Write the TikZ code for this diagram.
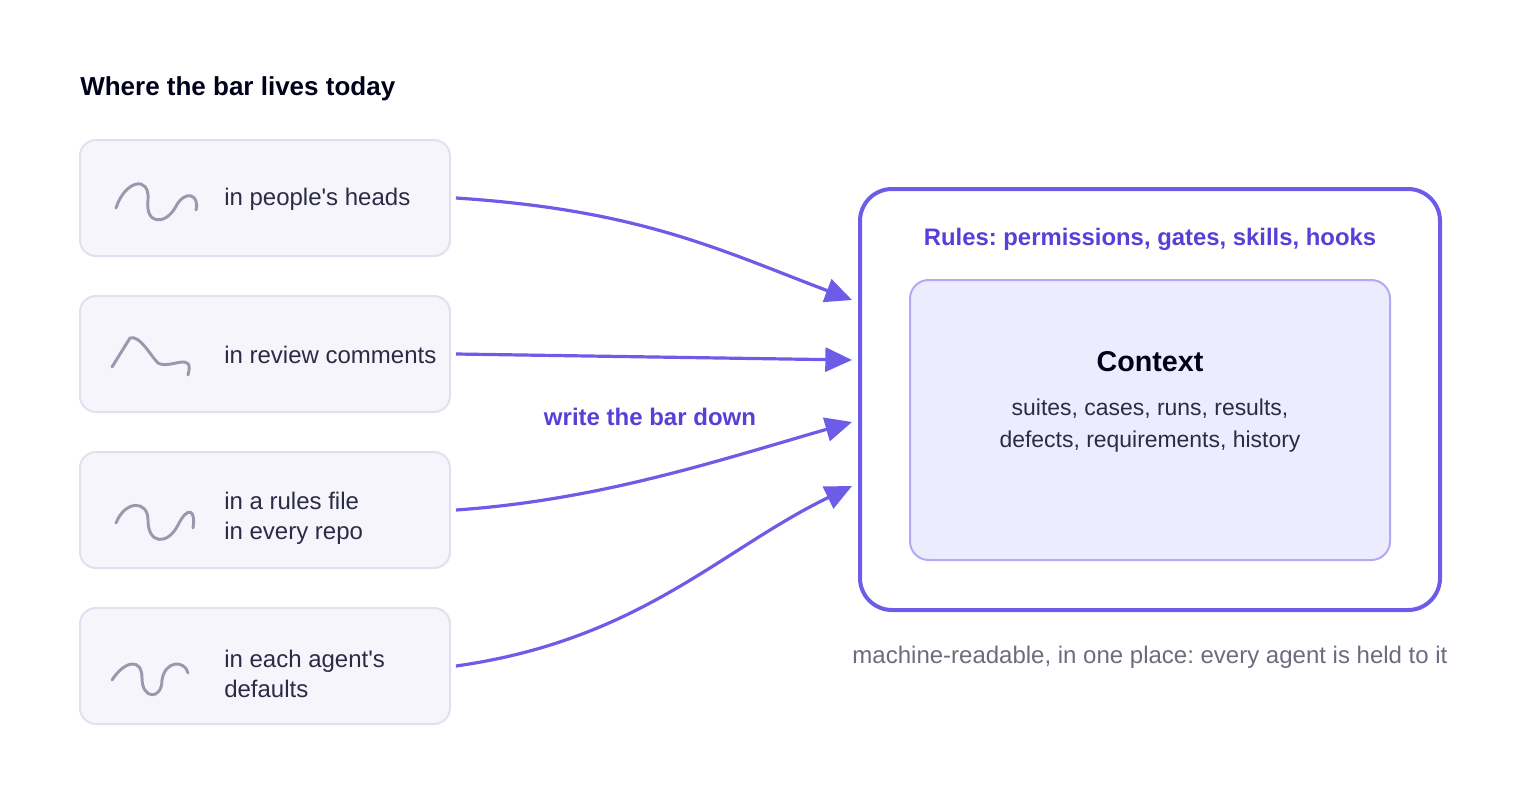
\documentclass[tikz,border=0pt]{standalone}
\usepackage{fontspec}
\setmainfont{Liberation Sans}
\usetikzlibrary{arrows.meta}
\definecolor{accent}{HTML}{6C5CE7}
\definecolor{accentdk}{HTML}{5640D8}
\definecolor{cardfill}{HTML}{F6F5FC}
\definecolor{cardline}{HTML}{E2E0EE}
\definecolor{ctxfill}{HTML}{EDEBFE}
\definecolor{ctxline}{HTML}{B3A9F5}
\definecolor{ink}{HTML}{2B2B45}
\definecolor{squig}{HTML}{9A98AC}
\definecolor{muted}{HTML}{6B6B80}
\frenchspacing
\tikzset{
  card/.style = {draw=cardline, fill=cardfill, line width=1.5pt, rounded corners=12pt,
    minimum width=370*0.75pt, minimum height=116*0.75pt, outer sep=4.5pt},
  cardtext/.style = {anchor=west, align=left, inner sep=0pt, text=ink, font=\fontsize{18}{22.5}\selectfont},
  squiggle/.style = {draw=squig, line width=2.2pt, line cap=round},
  flow/.style = {draw=accent, line width=2.4pt, -{Triangle[length=20pt,width=18pt]}}
}
\begin{document}
\begin{tikzpicture}[x=0.75pt, y=-0.75pt]
\useasboundingbox (0,0) rectangle (1520,800);
\node[anchor=west, inner sep=0pt, font=\bfseries\fontsize{19.5}{20}\selectfont, text=black!90!blue] (title) at (80,89) {Where the bar lives today};
% sources
\node[card] (c1) at (265,198) {};
\node[card] (c2) at (265,354) {};
\node[card] (c3) at (265,510) {};
\node[card] (c4) at (265,666) {};
\node[cardtext] (s1) at (224,199) {in people\textquotesingle s heads};
\node[cardtext] (s2) at (224,355) {in review comments};
\node[cardtext] (s3) at (224,518) {in a rules file\\in every repo};
\node[cardtext] (s4) at (224,674) {in each agent\textquotesingle s\\defaults};
\draw[squiggle] (116,208) .. controls (125,180) and (150,175) .. (148,200) .. controls (145,225) and (165,225) .. (175,208) .. controls (185,188) and (200,195) .. (196,210);
\draw[squiggle] (112,367) -- (130,338) .. controls (140,335) and (150,355) .. (158,363) .. controls (170,370) and (195,350) .. (188,375);
\draw[squiggle] (116,523) .. controls (125,500) and (148,500) .. (148,520) .. controls (148,545) and (168,545) .. (178,525) .. controls (188,505) and (196,510) .. (193,528);
\draw[squiggle] (112,680) .. controls (125,660) and (142,658) .. (142,678) .. controls (142,700) and (162,700) .. (162,680) .. controls (165,660) and (185,660) .. (188,673);
% target
\draw[draw=accent, line width=3pt, rounded corners=24pt] (860,189) rectangle (1440,610);
\node[font=\bfseries\fontsize{17.9}{20}\selectfont, text=accentdk] (rules) at (1150,239) {Rules: permissions, gates, skills, hooks};
\draw[draw=ctxline, fill=ctxfill, line width=1.5pt, rounded corners=14pt] (910,280) rectangle (1390,560);
\node[font=\bfseries\fontsize{21.5}{22}\selectfont, text=black!90!blue] (ctx) at (1150,362) {Context};
\node[align=center, text=ink, font=\fontsize{17.2}{24}\selectfont] (ctxsub) at (1150,426) {suites, cases, runs, results,\\defects, requirements, history};
\node[text=muted, font=\fontsize{18}{20}\selectfont] (note) at (1150,657) {machine-readable, in one place: every agent is held to it};
% flows
\coordinate (e1) at (852,300);
\coordinate (e2) at (852,360);
\coordinate (e3) at (852,422);
\coordinate (e4) at (852,486);
\draw[flow] (c1.east) .. controls (640,210) and (720,250) .. (e1);
\draw[flow] (c2.east) -- (e2);
\draw[flow] (c3.east) .. controls (600,500) and (720,460) .. (e3);
\draw[flow] (c4.east) .. controls (640,640) and (720,550) .. (e4);
\node[font=\bfseries\fontsize{18}{20}\selectfont, text=accentdk] (wlabel) at (650,417) {write the bar down};
\end{tikzpicture}
\end{document}
